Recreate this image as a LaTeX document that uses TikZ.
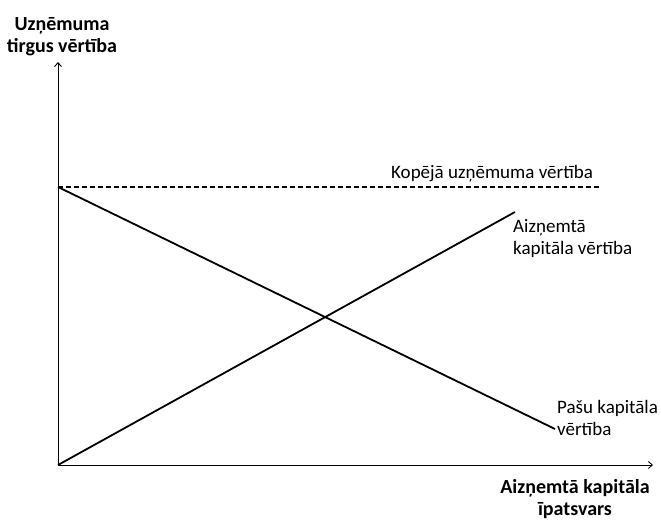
\documentclass[tikz,border=0pt]{standalone}
\usepackage{fontspec}
\setmainfont{Carlito}
\usetikzlibrary{arrows.meta}
\begin{document}
\begin{tikzpicture}[x=1pt,y=-1pt,
  axis/.style={line width=0.9pt,-{Straight Barb[length=4pt,width=7pt]}},
  curve/.style={line width=1.8pt},
  lbl/.style={font=\fontsize{19}{22}\selectfont,inner sep=0pt,align=left},
  axlbl/.style={font=\fontsize{20}{22}\selectfont\bfseries,inner sep=0pt,align=center}]
\useasboundingbox (0,0) rectangle (661,521);
% axes
\coordinate (O) at (58,465);
\coordinate (ytop) at (58,62);
\coordinate (xend) at (653,465);
\draw[axis] (O) -- (ytop);
\draw[axis] (O) -- (xend);
% total firm value
\coordinate (t0) at (58,187);
\coordinate (t1) at (600,187);
\draw[line width=1.3pt,dash pattern=on 5pt off 3pt] (t0) -- (t1);
% equity and debt value lines
\coordinate (e1) at (555,429);
\coordinate (d1) at (515,212);
\draw[curve] (t0) -- (e1);
\draw[curve] (O) -- (d1);
% labels (base anchor of a two-line node sits on its last line)
\node[lbl,anchor=base west] (ltot) at (391,179) {Kopējā uzņēmuma vērtība};
\node[lbl,anchor=base west] (ldebt) at (513,255) {Aizņemtā\\kapitāla vērtība};
\node[lbl,anchor=base west] (leq) at (557,435) {Pašu kapitāla\\vērtība};
\node[axlbl,anchor=base] (ly) at (62,53) {Uzņēmuma\\tirgus vērtība};
\node[axlbl,anchor=base] (lx) at (575,515) {Aizņemtā kapitāla\\īpatsvars};
\end{tikzpicture}
\end{document}
